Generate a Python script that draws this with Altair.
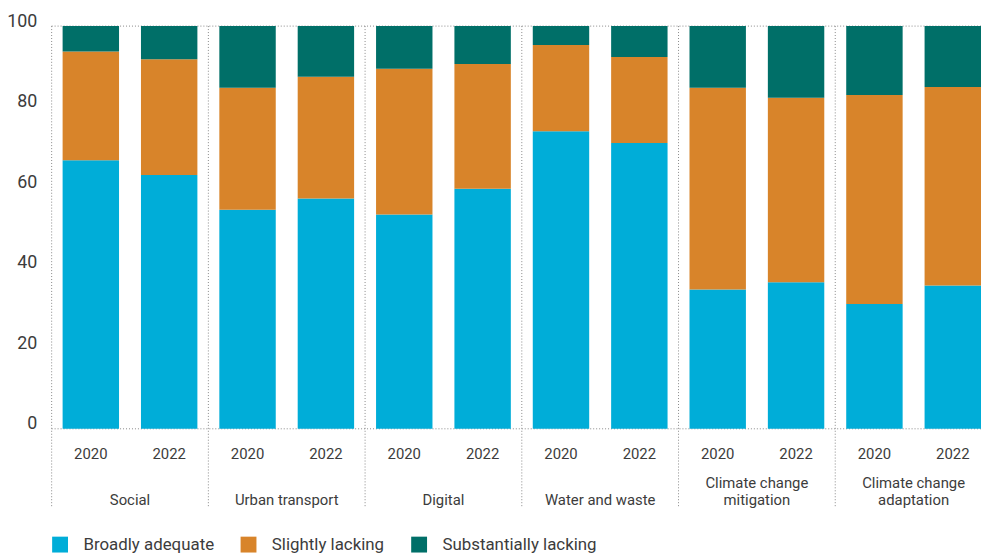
import altair as alt
import pandas as pd

FONT = "Roboto"
TXT = "#3c3c3c"

cat_line1 = ["", "", "", "", "Climate change", "Climate change"]
cat_line2 = ["Social", "Urban transport", "Digital", "Water and waste", "mitigation", "adaptation"]
years = ["2020", "2022"]
series = ["Broadly adequate", "Slightly lacking", "Substantially lacking"]
colors = ["#00ADD8", "#D8842A", "#006F68"]
broadly = [66.7, 63.0, 54.4, 57.2, 53.2, 59.6, 73.9, 71.0, 34.6, 36.4, 31.0, 35.6]
slightly = [27.0, 28.8, 30.3, 30.2, 36.2, 31.0, 21.4, 21.3, 50.1, 45.8, 51.9, 49.3]
substantially = [6.3, 8.2, 15.3, 12.6, 10.6, 9.4, 4.7, 7.7, 15.3, 17.8, 17.1, 15.1]
y_ticks = [0, 20, 40, 60, 80, 100]
frame_lines = [0, 100]

rows, yr_rows, cat_rows, sep_rows = [], [], [], []
values = [broadly, slightly, substantially]
for i in range(len(cat_line2)):
    cat_rows.append({"pos": 2 * i + 0.5, "l1": cat_line1[i], "l2": cat_line2[i]})
    sep_rows.append({"pos": 2 * i - 0.5})
    for j, yr in enumerate(years):
        idx = 2 * i + j
        yr_rows.append({"idx": idx, "year": yr})
        for s, name in enumerate(series):
            rows.append({"idx": idx, "series": name, "order": s, "value": values[s][idx]})

df = pd.DataFrame(rows)
df_years = pd.DataFrame(yr_rows)
df_cats = pd.DataFrame(cat_rows)
df_sep = pd.DataFrame(sep_rows)
df_frame = pd.DataFrame({"v": frame_lines})

xscale = alt.Scale(domain=[-0.5, 11.36], nice=False, zero=False)
yscale = alt.Scale(domain=[0, 100], nice=False)
yaxis = alt.Axis(values=y_ticks, domain=False, ticks=False, grid=False,
                 labelFontSize=18, labelFont=FONT, labelColor=TXT,
                 labelPadding=15, labelBaseline="alphabetic", title=None)

frame = alt.Chart(df_frame).mark_rule(strokeDash=[1, 2], color="#888888", strokeWidth=1).encode(
    y=alt.Y("v:Q", scale=yscale, axis=yaxis),
    x=alt.value(0), x2=alt.value(937),
)

seps = alt.Chart(df_sep).mark_rule(strokeDash=[1, 2], color="#888888", strokeWidth=1).encode(
    x=alt.X("pos:Q", scale=xscale, axis=None),
    y=alt.value(0), y2=alt.value(486),
)

bars = alt.Chart(df).transform_stack(
    stack="value", groupby=["idx"], as_=["y0", "y1"], sort=[alt.SortField("order")]
).transform_calculate(
    xa="datum.idx - 0.36", xb="datum.idx + 0.36"
).mark_bar().encode(
    x=alt.X("xa:Q", scale=xscale, axis=None),
    x2="xb:Q",
    y=alt.Y("y0:Q", scale=yscale, axis=yaxis),
    y2="y1:Q",
    color=alt.Color("series:N", scale=alt.Scale(domain=series, range=colors),
                    legend=alt.Legend(title=None, orient="none", legendX=0, legendY=514,
                                      direction="horizontal", symbolType="square",
                                      symbolSize=256, symbolStrokeWidth=0, symbolOpacity=1,
                                      labelFontSize=17, labelFont=FONT, labelColor=TXT,
                                      labelLimit=400, columnPadding=26, labelOffset=15)),
)

year_text = alt.Chart(df_years).mark_text(
    baseline="alphabetic", fontSize=15, font=FONT, color=TXT
).encode(
    x=alt.X("idx:Q", scale=xscale, axis=None),
    y=alt.value(436),
    text="year:N",
)

cat_text1 = alt.Chart(df_cats).mark_text(
    baseline="alphabetic", fontSize=15, font=FONT, color=TXT
).encode(
    x=alt.X("pos:Q", scale=xscale, axis=None),
    y=alt.value(466),
    text="l1:N",
)

cat_text2 = alt.Chart(df_cats).mark_text(
    baseline="alphabetic", fontSize=15, font=FONT, color=TXT
).encode(
    x=alt.X("pos:Q", scale=xscale, axis=None),
    y=alt.value(483),
    text="l2:N",
)

chart = alt.layer(frame, seps, bars, year_text, cat_text1, cat_text2).properties(
    width=937, height=406,
    autosize=alt.AutoSizeParams(type="none"),
    padding={"left": 44, "top": 16, "right": 0, "bottom": 127},
).configure_view(stroke=None)

chart.save("out.html", embed_options={"renderer": "svg", "actions": False})
